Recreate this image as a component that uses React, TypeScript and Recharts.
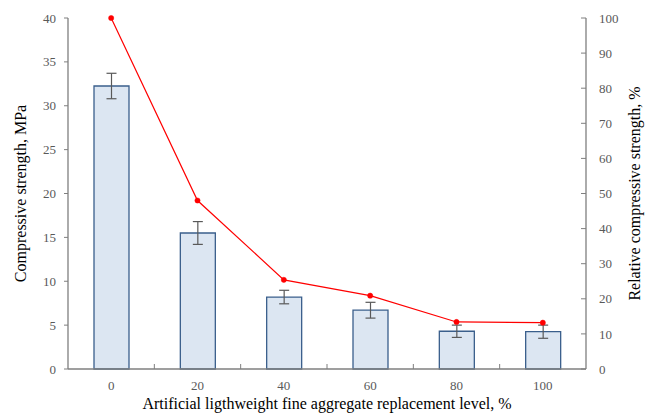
import {
  ComposedChart,
  Bar,
  Line,
  XAxis,
  YAxis,
  ErrorBar,
} from "recharts";

const levels = ["0", "20", "40", "60", "80", "100"];
const strength = [32.25, 15.5, 8.2, 6.7, 4.3, 4.25];
const strengthErr = [1.45, 1.3, 0.77, 0.9, 0.7, 0.75];
const relative = [100, 48, 25.4, 20.9, 13.4, 13.2];

const leftTicks = [0, 5, 10, 15, 20, 25, 30, 35, 40];
const rightTicks = [0, 10, 20, 30, 40, 50, 60, 70, 80, 90, 100];

const data = levels.map((level, i) => ({
  level,
  strength: strength[i],
  err: strengthErr[i],
  rel: relative[i],
}));

const font = "Liberation Serif";
const axisColor = "#7f7f7f";
const tickStyle = { fill: "#595959", fontSize: 13, fontFamily: font };
const titleStyle = { fill: "#000", fontSize: 16, fontFamily: font };

// x of each category tick as the axis lays them out, so the boundary
// tick can sit halfway between two neighbouring categories
const tickXs: number[] = [];

function LevelTick(props: any) {
  const { x, y, payload, index } = props;
  tickXs[index] = x;
  const prev = index > 0 ? tickXs[index - 1] : undefined;
  const mid = prev !== undefined ? (prev + x) / 2 : undefined;
  return (
    <g>
      {mid !== undefined && (
        <line
          x1={mid}
          x2={mid}
          y1={y}
          y2={y - 5}
          stroke={axisColor}
          strokeWidth={1}
        />
      )}
      <text
        x={x}
        y={y + 12}
        dy="0.71em"
        textAnchor="middle"
        fill={tickStyle.fill}
        fontSize={tickStyle.fontSize}
        fontFamily={font}
      >
        {payload.value}
      </text>
    </g>
  );
}

export default function App() {
  return (
    <div
      style={{
        position: "absolute",
        left: 0,
        top: 0,
        background: "#fff",
        fontFamily: font,
      }}
    >
      <ComposedChart
        width={650}
        height={416}
        data={data}
        margin={{ top: 18, right: 0, bottom: 0, left: 0 }}
      >
        <XAxis
          dataKey="level"
          height={47}
          axisLine={{ stroke: axisColor, strokeWidth: 1.3 }}
          tickLine={false}
          tickSize={0}
          tickMargin={0}
          tick={(p: any) => <LevelTick {...p} />}
          interval={0}
          label={{
            value: "Artificial ligthweight fine aggregate replacement level, %",
            position: "insideBottom",
            offset: 7,
            style: titleStyle,
          }}
        />
        <YAxis
          yAxisId="left"
          width={68}
          domain={[0, 40]}
          ticks={leftTicks}
          interval={0}
          axisLine={{ stroke: axisColor, strokeWidth: 1.3 }}
          tickLine={{ stroke: axisColor }}
          tickSize={4}
          tickMargin={8}
          tick={tickStyle}
          label={{
            value: "Compressive strength, MPa",
            angle: -90,
            position: "insideLeft",
            offset: 20,
            style: { ...titleStyle, textAnchor: "middle" },
          }}
        />
        <YAxis
          yAxisId="right"
          orientation="right"
          width={64}
          domain={[0, 100]}
          ticks={rightTicks}
          interval={0}
          axisLine={{ stroke: axisColor, strokeWidth: 1.3 }}
          tickLine={{ stroke: axisColor }}
          tickSize={-5}
          tickMargin={18}
          tick={{ ...tickStyle, textAnchor: "start" }}
          label={{
            value: "Relative compressive strength, %",
            angle: -90,
            position: "insideRight",
            offset: 16,
            style: { ...titleStyle, textAnchor: "middle" },
          }}
        />
        <Bar
          yAxisId="left"
          dataKey="strength"
          barSize={35}
          fill="#dce6f2"
          stroke="#3a5f8c"
          strokeWidth={1.3}
          isAnimationActive={false}
        >
          <ErrorBar dataKey="err" width={5} stroke="#595959" strokeWidth={1.2} />
        </Bar>
        <Line
          yAxisId="right"
          dataKey="rel"
          stroke="#ff0000"
          strokeWidth={1.2}
          dot={{ r: 2.6, fill: "#ff0000", stroke: "#ff0000", strokeWidth: 0.5 }}
          isAnimationActive={false}
        />
      </ComposedChart>
    </div>
  );
}
